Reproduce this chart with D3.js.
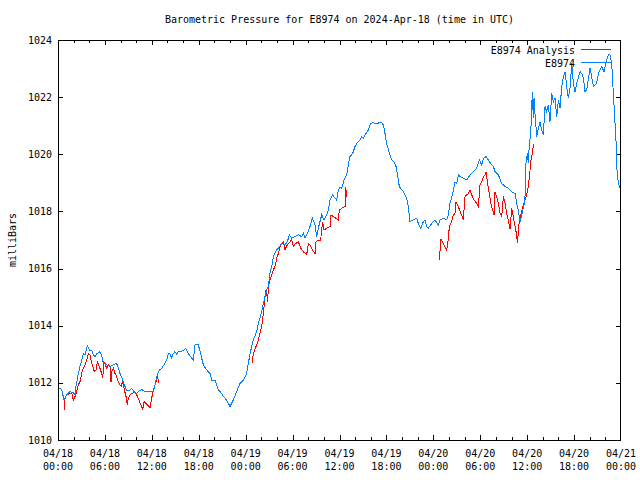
<!DOCTYPE html>
<html><head><meta charset="utf-8">
<script src="https://cdn.jsdelivr.net/npm/d3@7"></script>
<style>
body{margin:0;background:#fff;}
text{font-family:"DejaVu Sans Mono","Liberation Mono",monospace;font-size:10px;fill:#000;}
</style></head>
<body>
<svg id="chart" width="640" height="480"></svg>
<script>
const titleText = "Barometric Pressure for E8974 on 2024-Apr-18 (time in UTC)";
const yLabel = "milliBars";
const seriesNames = ["E8974 Analysis", "E8974"];
const xTickHours = [0,6,12,18,24,30,36,42,48,54,60,66,72];
const xTickDates = ["04/18","04/18","04/18","04/18","04/19","04/19","04/19","04/19","04/20","04/20","04/20","04/20","04/21"];
const xTickTimes = ["00:00","06:00","12:00","18:00","00:00","06:00","12:00","18:00","00:00","06:00","12:00","18:00","00:00"];
const yTicks = [1010,1012,1014,1016,1018,1020,1022,1024];

// station observations (hours since 2024-04-18 00:00 UTC, mb)
const stationHours = [0.13,0.47,0.77,1.11,1.53,1.96,2.17,2.30,2.60,2.81,3.03,3.24,3.45,3.75,4.01,4.31,4.52,4.73,4.95,5.29,5.58,5.80,6.22,6.65,7.08,7.50,7.72,7.93,8.27,8.57,8.78,9.21,9.42,9.72,10.06,10.27,10.70,11.13,12.19,12.41,12.62,12.96,13.26,13.68,13.90,14.11,14.32,14.54,14.75,14.96,15.18,15.39,16.03,16.33,16.67,17.10,17.31,17.52,17.95,18.07,18.38,18.59,19.02,19.44,19.66,20.08,20.30,20.51,20.72,
20.93,21.15,21.57,22.00,22.42,22.85,23.28,23.70,24.13,24.34,24.56,24.98,25.41,25.62,25.83,26.18,26.47,26.69,26.90,27.11,27.33,27.54,27.75,27.97,28.18,28.61,29.03,29.33,29.59,29.88,30.31,30.74,31.16,31.38,31.59,31.89,32.23,32.53,32.87,33.08,33.29,33.72,34.02,34.36,34.57,34.79,35.13,35.43,35.64,35.85,36.07,36.28,36.58,36.92,37.13,37.34,37.69,37.98,38.20,38.62,38.84,39.05,39.26,39.69,39.99,40.33,40.76,41.10,41.40,41.61,41.82,42.03,42.38,42.67,42.97,43.23,43.53,43.65,
44.17,44.59,44.80,45.02,45.44,45.87,46.08,46.38,46.72,46.94,47.15,47.36,47.66,48.00,48.22,48.64,48.86,49.28,49.71,49.92,50.13,50.48,50.77,50.99,51.20,51.41,51.84,52.27,52.69,53.12,53.54,53.89,54.18,54.40,54.74,55.04,55.46,55.68,55.89,56.32,56.74,57.17,57.59,58.02,58.45,58.66,58.87,59.09,59.30,59.60,59.77,59.85,60.02,60.15,60.28,60.45,60.66,60.79,60.88,61.01,61.22,61.43,61.64,61.86,62.07,62.28,62.50,62.71,62.92,63.14,63.35,63.56,63.78,63.99,64.20,64.42,64.63,64.84,65.06,65.27,65.48,65.70,65.91,66.12,66.33,66.76,66.97,67.19,67.40,67.61,68.04,68.25,68.47,68.89,69.11,69.53,69.83,70.17,70.38,70.60,70.81,71.02,71.24,71.36,71.45,71.66,71.88];
const stationValues = [1011.81,1011.77,1011.40,1011.58,1011.69,1011.66,1011.58,1011.87,1012.33,1012.57,1012.80,1013.03,1012.98,1013.29,1013.15,1013.15,1012.98,1012.92,1013.01,1013.09,1012.98,1012.68,1012.63,1012.57,1012.63,1012.68,1012.51,1012.33,1012.10,1011.87,1011.75,1011.75,1011.81,1011.69,1011.63,1011.69,1011.77,1011.69,1011.69,1011.93,1012.22,1012.45,1012.51,1012.68,1012.80,1013.03,1013.01,1012.86,1013.03,1013.09,1013.01,1013.09,1013.12,1013.20,1013.03,1012.86,1012.80,1013.33,1013.33,1013.20,1012.86,1012.63,1012.45,1012.33,1012.10,1012.10,1011.93,1011.75,1011.69,
1011.63,1011.52,1011.40,1011.17,1011.40,1011.69,1011.98,1012.10,1012.33,1012.68,1013.03,1013.50,1013.79,1014.08,1014.26,1014.67,1015.02,1015.25,1015.37,1015.83,1016.07,1016.42,1016.53,1016.65,1016.71,1016.88,1016.83,1016.94,1017.18,1017.06,1017.12,1017.18,1017.12,1017.23,1017.06,1017.23,1017.47,1017.76,1017.53,1017.12,1017.41,1017.88,1017.70,1017.88,1018.05,1018.40,1018.58,1018.46,1018.40,1018.75,1018.84,1018.81,1019.10,1019.28,1019.63,1019.92,1020.03,1020.27,1020.38,1020.50,1020.62,1020.56,1020.68,1020.85,1021.08,1021.11,1021.06,1021.11,1021.11,1021.03,1020.73,1020.38,1020.03,1019.80,1019.74,1019.57,1019.10,1018.87,
1018.69,1018.46,1018.17,1017.64,1017.70,1017.76,1017.58,1017.41,1017.64,1017.70,1017.47,1017.41,1017.53,1017.64,1017.70,1017.53,1017.70,1017.76,1017.70,1017.88,1018.28,1018.63,1019.04,1018.98,1019.28,1019.22,1019.16,1019.10,1019.28,1019.39,1019.51,1019.80,1019.63,1019.86,1019.92,1019.80,1019.63,1019.57,1019.39,1019.28,1018.98,1018.87,1018.81,1018.69,1018.63,1018.28,1018.05,1017.64,1017.88,1018.23,1018.63,1019.68,1020.03,1019.68,1020.38,1020.68,1022.19,1021.26,1021.96,1021.38,1020.62,1020.91,1021.14,1020.85,1020.68,1021.67,1021.49,1021.73,1021.14,1022.13,1021.84,1021.96,1021.32,1021.90,1021.61,1022.37,1022.72,1022.89,1022.37,1021.96,1022.31,1023.18,1022.48,1022.19,1022.48,1022.89,1022.83,1022.66,1022.19,1022.25,1023.01,1022.72,1022.37,1022.48,1022.83,1023.07,1022.89,1023.30,1023.48,1023.48,1023.18,1022.13,1021.08,1020.50,1019.57,1018.98,1018.81];

// analysis (null = gap)
const analysisHours = [0.77,0.90,1.11,1.53,1.75,1.96,2.17,2.39,2.60,2.81,3.03,3.24,3.45,3.67,3.88,4.09,4.31,4.52,4.65,4.86,5.03,5.29,5.58,5.71,5.88,6.01,6.22,6.44,6.65,6.78,6.86,7.08,7.29,7.50,7.72,7.93,8.14,8.27,8.44,8.70,8.87,8.99,9.21,9.85,10.06,10.27,10.49,10.70,10.83,11.00,11.25,11.55,11.77,11.98,12.19,12.41,12.62,12.75,12.87,
null,
24.85,24.98,25.32,25.62,25.83,26.05,26.26,26.39,26.56,26.69,26.82,26.90,27.11,27.33,27.54,27.75,27.97,28.18,28.39,28.61,28.82,29.03,29.33,29.67,29.88,30.10,30.31,30.74,31.04,31.38,31.80,32.02,32.23,32.53,32.87,33.00,33.29,33.59,33.72,33.85,34.02,34.36,34.79,34.91,35.21,35.55,35.85,35.98,36.28,36.71,36.79,36.92,37.00,
null,
48.77,48.86,48.98,49.28,49.71,49.92,50.05,50.35,50.56,50.77,50.90,51.20,51.50,51.84,52.05,52.27,52.48,52.69,52.91,53.20,53.54,53.76,53.97,54.18,54.40,54.61,54.74,54.91,55.16,55.34,55.59,55.76,55.89,56.10,56.32,56.53,56.74,56.96,57.17,57.38,57.59,57.81,58.02,58.23,58.45,58.66,58.75,58.87,59.00,59.17,59.30,59.51,59.73,59.94,60.15,60.37,60.49,60.66,60.79,60.88];
const analysisValues = [1011.05,1011.46,1011.58,1011.63,1011.66,1011.40,1011.52,1011.69,1011.93,1012.04,1012.33,1012.51,1012.63,1012.80,1013.03,1012.98,1012.68,1012.51,1012.39,1012.45,1012.74,1012.57,1012.33,1012.16,1012.74,1012.68,1012.51,1012.63,1012.57,1012.04,1012.39,1012.51,1012.33,1012.22,1012.04,1011.93,1011.87,1012.16,1011.81,1011.52,1011.23,1011.46,1011.58,1011.69,1011.58,1011.46,1011.28,1011.17,1011.07,1011.34,1011.28,1011.19,1011.14,1011.46,1011.75,1011.93,1012.10,1012.22,1011.98,
null,
1012.68,1013.03,1013.27,1013.50,1013.73,1013.97,1014.43,1014.78,1015.25,1015.13,1014.84,1015.37,1015.60,1015.78,1015.95,1016.07,1016.36,1016.53,1016.77,1016.88,1016.94,1016.67,1016.83,1016.94,1017.00,1016.77,1016.86,1016.94,1016.71,1016.59,1016.48,1016.88,1016.83,1016.65,1016.53,1016.94,1017.00,1017.00,1017.35,1017.64,1017.35,1017.41,1017.47,1017.88,1017.82,1017.76,1017.70,1018.05,1018.11,1018.17,1018.84,1018.58,1018.63,
null,
1016.30,1016.65,1017.02,1016.88,1016.65,1017.06,1017.47,1017.64,1017.88,1017.93,1018.34,1018.17,1017.93,1017.72,1018.52,1018.58,1018.63,1018.75,1018.58,1018.40,1018.28,1018.17,1018.93,1019.04,1019.22,1019.28,1019.39,1019.04,1018.63,1018.28,1018.05,1017.88,1018.69,1018.52,1018.28,1017.93,1017.82,1018.52,1018.28,1017.93,1017.70,1017.37,1018.11,1017.82,1017.47,1017.18,1016.88,1017.29,1017.70,1017.88,1017.99,1018.23,1018.40,1018.58,1018.87,1019.45,1019.80,1020.03,1020.33,1020.27];

const colors = {analysis:"#ff0000", station:"#0080ff"};

const svg = d3.select("#chart");
const L = 58, R = 621, T = 40, B = 440;
const x = d3.scaleLinear().domain([0,72]).range([L,R]);
const y = d3.scaleLinear().domain([1010,1024]).range([B,T]);

svg.append("rect").attr("width",640).attr("height",480).attr("fill","#fff");

const minorHours = d3.range(0,73,2).filter(h => h % 6 !== 0);

function axis(gen, transform){
  const g = svg.append("g").attr("transform",transform).call(gen);
  g.select(".domain").remove();
  g.selectAll("line").attr("stroke","#000").attr("shape-rendering","crispEdges");
  return g;
}
axis(d3.axisBottom(x).tickValues(xTickHours.slice(1,-1)).tickSize(-5).tickFormat(""), `translate(0,${B})`);
axis(d3.axisBottom(x).tickValues(minorHours).tickSize(-3).tickFormat(""), `translate(0,${B})`);
axis(d3.axisTop(x).tickValues(xTickHours.slice(1,-1)).tickSize(-5).tickFormat(""), `translate(0,${T})`);
axis(d3.axisTop(x).tickValues(minorHours).tickSize(-3).tickFormat(""), `translate(0,${T})`);
axis(d3.axisLeft(y).tickValues(yTicks.slice(1,-1)).tickSize(-5).tickFormat(""), `translate(${L},0)`);
axis(d3.axisRight(y).tickValues(yTicks.slice(1,-1)).tickSize(-5).tickFormat(""), `translate(${R},0)`);

svg.append("rect").attr("x",L+0.5).attr("y",T+0.5).attr("width",R-L-1).attr("height",B-T)
  .attr("fill","none").attr("stroke","#000").attr("shape-rendering","crispEdges");

// y labels
svg.append("g").selectAll("text").data(yTicks).join("text")
  .attr("x",L-6).attr("y",d=>y(d)).attr("dy","0.35em").attr("text-anchor","end").text(d=>d);
// x labels
const xl = svg.append("g").selectAll("text").data(xTickHours).join("text")
  .attr("text-anchor","middle");
xl.append("tspan").attr("x",d=>x(d)).attr("y",457).text((d,i)=>xTickDates[i]);
xl.append("tspan").attr("x",d=>x(d)).attr("y",470).text((d,i)=>xTickTimes[i]);

svg.append("text").attr("x",(L+R)/2).attr("y",23).attr("text-anchor","middle").text(titleText);
svg.append("text").attr("transform","translate(16,240) rotate(-90)").attr("text-anchor","middle").text(yLabel);

const lineGen = d3.line().defined(d => d[0] !== null && d[1] !== null).x(d=>x(d[0])).y(d=>y(d[1]));
const analysisData = analysisHours.map((h,i)=>[h, analysisValues[i]]);
const stationData = stationHours.map((h,i)=>[h, stationValues[i]]);

svg.append("path").datum(analysisData).attr("d",lineGen).attr("fill","none")
  .attr("stroke",colors.analysis).attr("stroke-width",1).attr("shape-rendering","crispEdges");
svg.append("path").datum(stationData).attr("d",lineGen).attr("fill","none")
  .attr("stroke",colors.station).attr("stroke-width",1).attr("shape-rendering","crispEdges");

// legend
const legend = [{name:seriesNames[0], color:colors.analysis, y:50},{name:seriesNames[1], color:colors.station, y:63}];
const lg = svg.append("g");
lg.selectAll("text").data(legend).join("text").attr("x",575).attr("y",d=>d.y).attr("dy","0.35em")
  .attr("text-anchor","end").text(d=>d.name);
lg.selectAll("line").data(legend).join("line").attr("x1",581).attr("x2",611)
  .attr("y1",d=>d.y-0.5).attr("y2",d=>d.y-0.5).attr("stroke",d=>d.color).attr("shape-rendering","crispEdges");
</script>
</body></html>
